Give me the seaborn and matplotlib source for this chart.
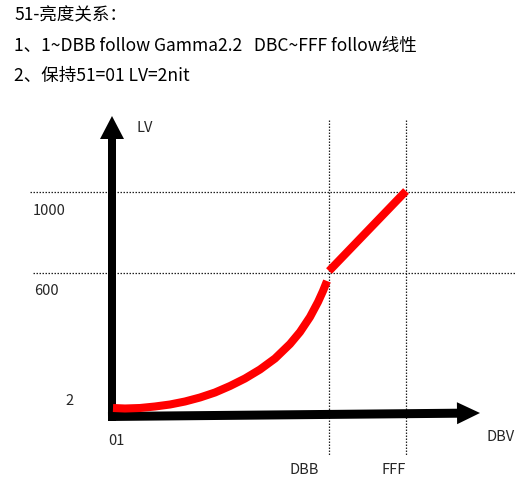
import matplotlib
matplotlib.use("Agg")
import matplotlib.pyplot as plt
import seaborn as sns
import pandas as pd

sns.set_theme(style="white")
plt.rcParams['font.family'] = ['Noto Sans CJK SC', 'DejaVu Sans']

# ---- data (diagram units: horizontal position, vertical position on canvas) ----
title_lines = ["51-亮度关系：",
               "1、1~DBB follow Gamma2.2   DBC~FFF follow线性",
               "2、保持51=01 LV=2nit"]
gamma_x = [113, 125, 140, 155, 170, 185, 200, 215, 230, 245, 260, 275, 290, 300, 310, 318, 323, 327]
gamma_y = [408, 408.5, 408, 406.5, 404.5, 401.5, 397.5, 392.5, 386, 378.5, 369.5, 358.5, 344, 332, 317, 302, 291, 281]
linear_x = [329, 406]
linear_y = [271, 191]
y_tick_labels = ["1000", "600", "2"]
y_tick_pos = [192, 273, 408]
x_tick_labels = ["01", "DBB", "FFF"]
x_tick_pos = [113, 329, 406]

fig = plt.figure(figsize=(5.16, 4.8), dpi=100)
ax = fig.add_axes([0, 0, 1, 1])

# guide lines
for yv, x0 in zip(y_tick_pos[:2], [30, 33]):
    ax.plot([x0, 516], [yv, yv], color="#222222", lw=0.9, ls=(0, (1.2, 1.2)), zorder=1)
for xv in x_tick_pos[1:]:
    ax.plot([xv, xv], [120, 455], color="#222222", lw=0.9, ls=(0, (1.2, 1.2)), zorder=1)

# axes arrows
ax.arrow(112, 421, 0, -305, width=8, head_width=24, head_length=23,
         length_includes_head=True, color="black", lw=0, zorder=3)
ax.arrow(108, 416.5, 372, -3.5, width=9, head_width=22, head_length=23,
         length_includes_head=True, color="black", lw=0, zorder=3)

# curves
df1 = pd.DataFrame({"x": gamma_x, "y": gamma_y})
df2 = pd.DataFrame({"x": linear_x, "y": linear_y})
sns.lineplot(data=df1, x="x", y="y", sort=False, ax=ax, color="#ff0000",
             lw=5.8, solid_capstyle="butt", solid_joinstyle="round", zorder=4)
sns.lineplot(data=df2, x="x", y="y", sort=False, ax=ax, color="#ff0000",
             lw=5.8, solid_capstyle="butt", zorder=4)
ax.set_xlim(0, 516)
ax.set_ylim(480, 0)
ax.axis("off")

# texts
for i, t in enumerate(title_lines):
    ax.text(14, 15 + 30.5 * i, t, fontsize=12.6, ha="left", va="center", color="black")

ax.text(137, 128, "LV", fontsize=10.5, ha="left", va="center")
ax.text(486, 437, "DBV", fontsize=10.5, ha="left", va="center")
ax.text(33, 211, y_tick_labels[0], fontsize=10.5, ha="left", va="center")
ax.text(34, 291, y_tick_labels[1], fontsize=10.5, ha="left", va="center")
ax.text(69, 401, y_tick_labels[2], fontsize=10.5, ha="center", va="center")
ax.text(108, 441, x_tick_labels[0], fontsize=10.5, ha="left", va="center")
ax.text(304, 470, x_tick_labels[1], fontsize=10.5, ha="center", va="center")
ax.text(394, 470, x_tick_labels[2], fontsize=10.5, ha="center", va="center")

fig.savefig("out.png", dpi=100, facecolor="white")
